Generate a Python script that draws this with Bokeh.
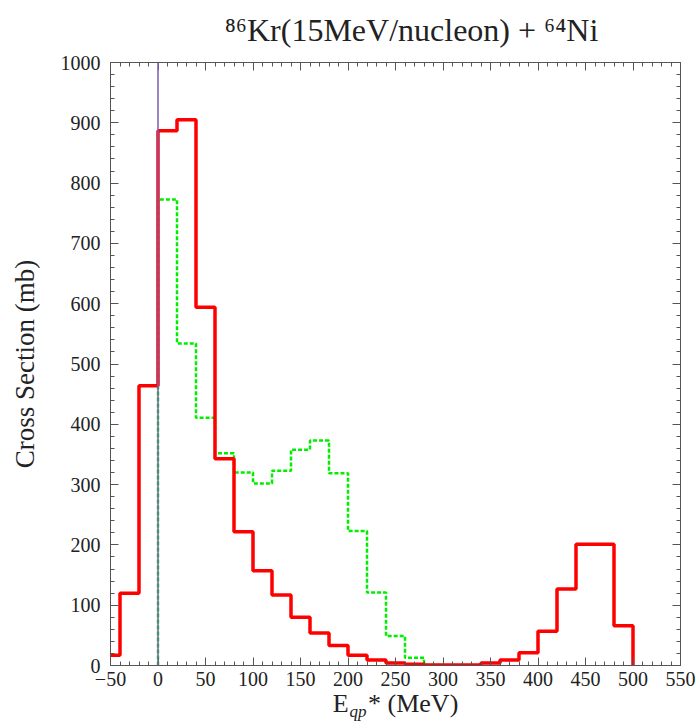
from bokeh.plotting import figure
from bokeh.models import (SingleIntervalTicker, LinearAxis, Label, Span, Range1d,
                          CustomJSTickFormatter)
from bokeh.embed import file_html
from bokeh.resources import INLINE

# Red histogram (20 MeV bins starting at -60 MeV)
red_edges_start = -60
bin_width = 20
red_values = [17, 120, 464, 887, 905, 594, 343, 222, 157, 117, 80, 54, 33, 17, 9, 4, 2, 1, 1, 1, 4, 9, 21, 57, 127, 201, 201, 66]

# Green dashed histogram (20 MeV bins starting at 0 MeV)
green_edges_start = 0
green_values = [773, 534, 411, 352, 320, 302, 323, 358, 373, 319, 223, 121, 49, 13, 1]

x_ticks = list(range(-50, 551, 50))
y_ticks = list(range(0, 1001, 100))

FONT = "Liberation Serif"
TXT = "#222222"
AX = "#555555"
NB = "\u00a0"

def step_xy(start, values):
    xs = [start + i * bin_width for i in range(len(values) + 1)]
    ys = list(values) + [0]
    return xs, ys

p = figure(width=697, height=725, output_backend="svg", toolbar_location=None,
           x_range=Range1d(-50, 550), y_range=Range1d(0, 1000),
           min_border_left=110, min_border_right=17, min_border_top=62, min_border_bottom=60,
           x_axis_location=None, y_axis_location=None)
p.xgrid.visible = False
p.ygrid.visible = False
p.outline_line_color = AX
p.outline_line_width = 1

def style_axis(ax, labels=True):
    ax.major_tick_in = 8
    ax.major_tick_out = 0
    ax.minor_tick_in = 4
    ax.minor_tick_out = 0
    ax.axis_line_color = AX
    ax.major_tick_line_color = AX
    ax.minor_tick_line_color = AX
    ax.major_label_text_font = FONT
    ax.major_label_text_font_size = "20px"
    ax.major_label_text_color = TXT
    ax.axis_label_text_font = FONT
    ax.axis_label_text_font_style = "normal"
    ax.axis_label_text_color = TXT
    if not labels:
        ax.formatter = CustomJSTickFormatter(code="return '';")

xb = LinearAxis(ticker=SingleIntervalTicker(interval=50, num_minor_ticks=5),
                axis_label="E" + NB * 3 + "* (MeV)")
style_axis(xb)
xb.major_label_overrides = {v: ("\u2212" + str(-v) if v < 0 else str(v)) for v in x_ticks}
xb.major_label_standoff = 6
xb.axis_label_standoff = 0
xb.axis_label_text_font_size = "26px"
p.add_layout(xb, "below")

xt = LinearAxis(ticker=SingleIntervalTicker(interval=50, num_minor_ticks=5))
style_axis(xt, labels=False)
p.add_layout(xt, "above")

yl = LinearAxis(ticker=SingleIntervalTicker(interval=100, num_minor_ticks=5),
                axis_label="Cross Section (mb)")
style_axis(yl)
yl.major_label_standoff = 10
yl.axis_label_standoff = 18
yl.axis_label_text_font_size = "27px"
p.add_layout(yl, "left")

yr = LinearAxis(ticker=SingleIntervalTicker(interval=100, num_minor_ticks=5))
style_axis(yr, labels=False)
p.add_layout(yr, "right")

gx, gy = step_xy(green_edges_start, green_values)
gx = [gx[0]] + gx
gy = [0] + gy
p.step(gx, gy, mode="after", line_color="#00EE00", line_width=2.5, line_dash="4 2")

rx, ry = step_xy(red_edges_start, red_values)
p.step(rx, ry, mode="after", line_color="#FF0000", line_width=3.5)

# vertical line at 0
p.add_layout(Span(location=0, dimension="height", line_color="#7E5BB5", line_width=1.5))

def lab(side, x, y, text, size, style="normal", align="left", baseline="alphabetic"):
    p.add_layout(Label(x=x, y=y, x_units="canvas", y_units="canvas", text=text,
                       text_font=FONT, text_font_size=size, text_font_style=style,
                       text_align=align, text_baseline=baseline,
                       text_color=TXT), side)

# title (canvas coords)
lab("above", 411, 29, "\u2078\u2076Kr(15MeV/nucleon) + \u2076\u2074Ni", "32px", align="center")

# subscript of the x axis label (E_qp)
lab("above", 349, 711, "qp", "17px", style="italic")

open("out.html", "w").write(file_html(p, INLINE))
